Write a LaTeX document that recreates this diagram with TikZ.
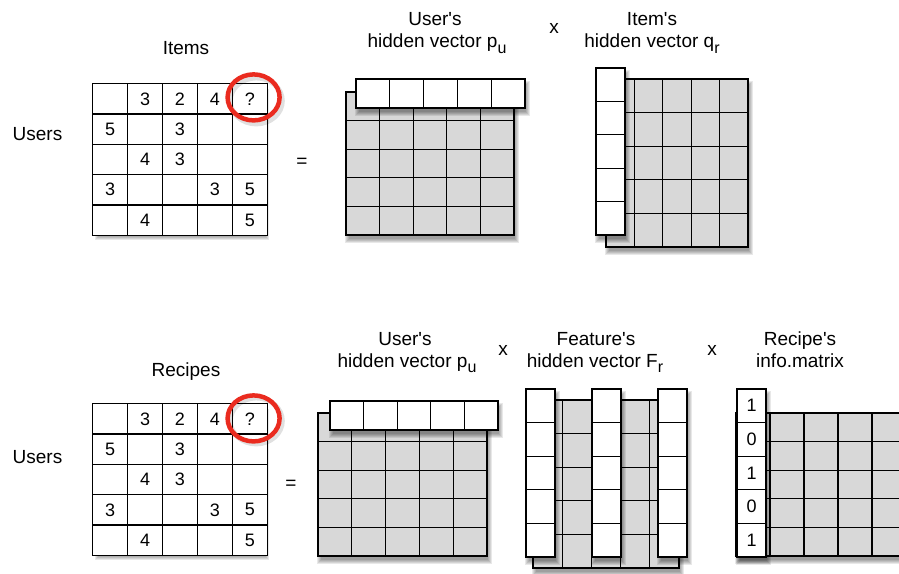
\documentclass[tikz,border=0pt]{standalone}
\usepackage{fontspec}
\setmainfont{Liberation Sans}
\usepackage{tikz}
\usetikzlibrary{positioning,matrix,calc,shapes.geometric}
\definecolor{cellgray}{RGB}{216,216,216}
\definecolor{ringred}{RGB}{234,43,31}
\newcommand\lowsub[1]{\raisebox{-0.3em}{\fontsize{16}{16}\selectfont #1}}
\newcommand\apos{\textquotesingle}
% soft shadow under a box given by two corners
\newcommand\softshade[2]{%
  \foreach \k in {0,...,4}
    \fill[black,opacity=.09] ($#1+(3-\k,6-\k)$) rectangle ($#2+(1+\k,4+\k)$);}
\tikzset{
  lbl/.style={font=\fontsize{19}{23}\selectfont,inner sep=0pt,anchor=base},
  rating/.style={matrix of nodes,nodes in empty cells,
    nodes={draw,fill=white,line width=1.3pt,minimum width=34.9pt,
      minimum height=30.3pt,anchor=center,inner sep=0pt,
      font=\fontsize{18}{18}\selectfont},
    column sep=-1.3pt,row sep=-1.3pt},
  gcell/.style={draw,fill=cellgray,line width=1.3pt},
  wcell/.style={draw,fill=white,line width=1.3pt},
  vcell/.style={wcell,minimum width=29pt,minimum height=33.6pt,inner sep=0pt,
    font=\fontsize{18}{18}\selectfont},
  ring/.style={ellipse,draw=ringred,line width=4.5pt,minimum width=52pt,
    minimum height=46pt},
  ringshade/.style={ellipse,draw=black,opacity=.12,line width=5pt,
    minimum width=52pt,minimum height=46pt},
}

\begin{document}
\begin{tikzpicture}[x=1pt,y=-1pt]
  \useasboundingbox (0,0) rectangle (899,573);

  % ---------- top row: users x items ----------
  \node[lbl] (items) at (186,54) {Items};
  \node[lbl] (usersA) at (37.5,140) {Users};
  \softshade{(96,87)}{(264,232)}
  \matrix[rating] (rtop) at (180,159.5) {
      & 3 & 2 & 4 & ? \\
    5 &   & 3 &   &   \\
      & 4 & 3 &   &   \\
    3 &   &   & 3 & 5 \\
      & 4 &   &   & 5 \\
  };
  \node[ringshade] (qtopS) at ($(rtop-1-5)+(6.5,2)$) {};
  \node[ring] (qtop) at ($(rtop-1-5)+(3.8,-1.5)$) {};
  \node[lbl] (eqA) at (302,167.5) {=};

  % user factor
  \softshade{(346,92)}{(514,235)}
  \foreach \i in {0,...,4}
    \foreach \j in {0,...,4}
      \draw[gcell] ({346+33.6*\i},{92+28.6*\j}) rectangle +(33.6,28.6);
  \softshade{(356,79)}{(525,108)}
  \foreach \i in {0,...,4}
    \draw[wcell] ({356+33.8*\i},79) rectangle +(33.8,29);
  \node[lbl] (puA1) at (435,25) {User\apos s};
  \node[lbl] (puA2) at (437,47.5) {hidden vector p\lowsub{u}};
  \node[lbl] (xA) at (554,33) {x};

  % item factor
  \softshade{(606,79)}{(748,247)}
  \foreach \i in {0,...,4}
    \foreach \j in {0,...,4}
      \draw[gcell] ({606+28.4*\i},{79+33.6*\j}) rectangle +(28.4,33.6);
  \softshade{(596,68)}{(625,235)}
  \foreach \j in {0,...,4}
    \draw[wcell] (596,{68+33.4*\j}) rectangle +(29,33.4);
  \node[lbl] (qr1) at (652,25) {Item\apos s};
  \node[lbl] (qr2) at (652,47.5) {hidden vector q\lowsub{r}};

  % ---------- bottom row: users x features x recipes ----------
  \node[lbl] (recipes) at (186,376) {Recipes};
  \node[lbl] (usersB) at (37.5,463) {Users};
  \softshade{(96,407)}{(264,552)}
  \matrix[rating] (rbot) at (180,479.5) {
      & 3 & 2 & 4 & ? \\
    5 &   & 3 &   &   \\
      & 4 & 3 &   &   \\
    3 &   &   & 3 & 5 \\
      & 4 &   &   & 5 \\
  };
  \node[ringshade] (qbotS) at ($(rbot-1-5)+(6.5,2)$) {};
  \node[ring] (qbot) at ($(rbot-1-5)+(3.8,-0.5)$) {};
  \node[lbl] (eqB) at (291,489.5) {=};

  % user factor
  \softshade{(318,413)}{(487,556)}
  \foreach \i in {0,...,4}
    \foreach \j in {0,...,4}
      \draw[gcell] ({318+33.8*\i},{413+28.6*\j}) rectangle +(33.8,28.6);
  \softshade{(330,401)}{(498,430)}
  \foreach \i in {0,...,4}
    \draw[wcell] ({330+33.6*\i},401) rectangle +(33.6,29);
  \node[lbl] (puB1) at (405,345) {User\apos s};
  \node[lbl] (puB2) at (407,367) {hidden vector p\lowsub{u}};
  \node[lbl] (xB) at (503,355) {x};

  % feature factor
  \softshade{(533,400)}{(679,568)}
  \foreach \i in {0,...,4}
    \foreach \j in {0,...,4}
      \draw[gcell] ({533+29.2*\i},{400+33.6*\j}) rectangle +(29.2,33.6);
  \foreach \c in {526,592,658} {
    \softshade{(\c,389)}{(\c+29,557)}
    \foreach \j in {0,...,4}
      \draw[wcell] (\c,{389+33.6*\j}) rectangle +(29,33.6);
  }
  \node[lbl] (fr1) at (596,345) {Feature\apos s};
  \node[lbl] (fr2) at (595,367) {hidden vector F\lowsub{r}};
  \node[lbl] (xC) at (712,355) {x};

  % recipe info matrix
  \begin{scope}
    \clip (0,0) rectangle (899,573);
    \softshade{(736,413)}{(906,556)}
    \foreach \i in {0,...,4}
      \foreach \j in {0,...,4}
        \draw[gcell] ({736+34*\i},{413+28.6*\j}) rectangle +(34,28.6);
  \end{scope}
  \softshade{(737,389)}{(766,557)}
  \foreach \v [count=\j from 0] in {1,0,1,0,1}
    \node[vcell] (rv\j) at (751.5,{405.8+33.6*\j}) {\v};
  \node[lbl] (ri1) at (800,345) {Recipe\apos s};
  \node[lbl] (ri2) at (800,367) {info.matrix};
\end{tikzpicture}
\end{document}
